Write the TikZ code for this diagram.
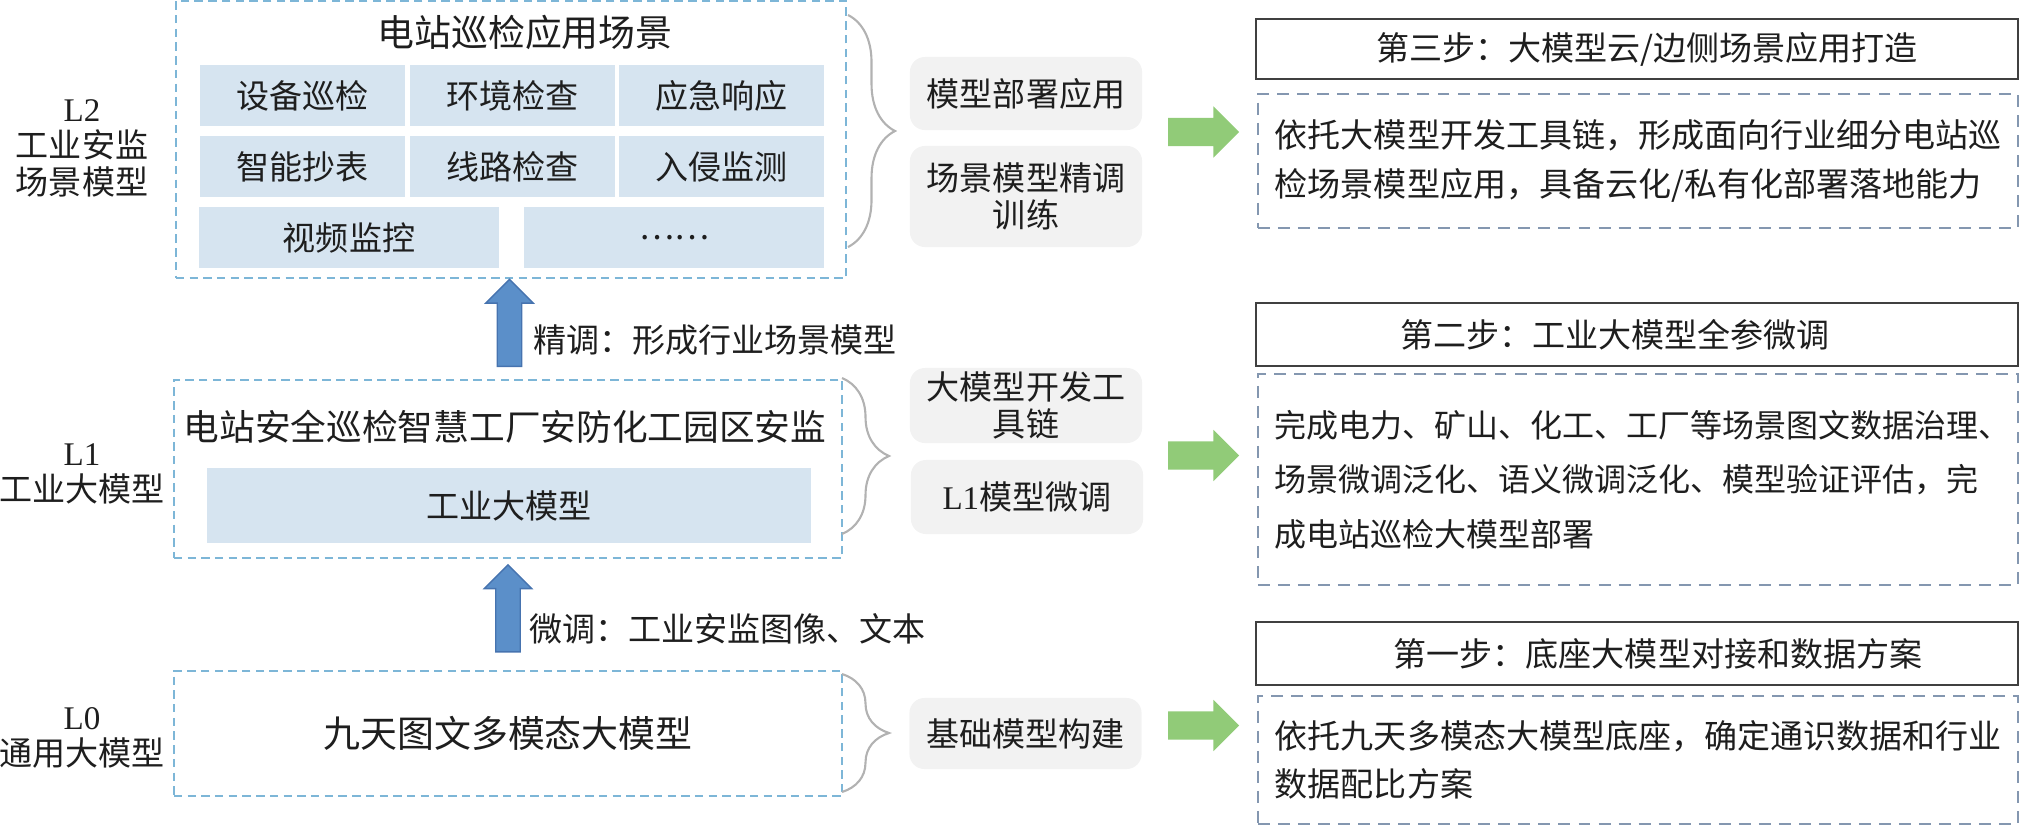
\documentclass[tikz,border=0pt]{standalone}
\usepackage{fontspec}
\setmainfont{Noto Sans CJK SC}
\newfontfamily\latinfont{Liberation Serif}
\usetikzlibrary{shapes.arrows,decorations.pathreplacing}
\definecolor{txtgray}{RGB}{30,30,30}
\definecolor{lblue}{RGB}{125,182,215}
\definecolor{cellblue}{RGB}{214,228,240}
\definecolor{boxgray}{RGB}{242,242,242}
\definecolor{bracegray}{RGB}{178,178,178}
\definecolor{descblue}{RGB}{132,151,176}
\definecolor{stepgray}{RGB}{64,64,64}
\definecolor{upblue}{RGB}{91,143,201}
\definecolor{upline}{RGB}{70,115,175}
\definecolor{gogreen}{RGB}{145,203,120}
\begin{document}
\begin{tikzpicture}[x=0.01cm,y=-0.01cm,
    every node/.style={text=txtgray,inner sep=0pt,outer sep=0pt,
      font=\fontsize{9.4pt}{10.4pt}\selectfont},
    lbox/.style={draw=lblue,line width=0.6pt,dash pattern=on 2.4pt off 1.5pt},
    cell/.style={fill=cellblue,minimum height=0.61cm},
    graybox/.style={fill=boxgray,rounded corners=0.15cm,minimum width=2.32cm,align=center},
    bracestyle/.style={draw=bracegray,line width=0.6pt,decorate,
      decoration={brace,amplitude=0.47cm}},
    bluearrow/.style={single arrow,draw=upline,fill=upblue,line width=0.4pt,rotate=90,
      minimum height=0.87cm,inner ysep=0.115cm,single arrow head extend=0.115cm},
    greenarrow/.style={single arrow,fill=gogreen,
      minimum height=0.71cm,inner ysep=0.135cm,single arrow head extend=0.115cm},
    stepbox/.style={draw=stepgray,line width=0.7pt,fill=white,minimum width=7.62cm},
    descbox/.style={draw=descblue,line width=0.6pt,dash pattern=on 3.4pt off 2.3pt,
      text width=7.26cm,inner xsep=0.17cm,align=left}]
  \useasboundingbox (0,0) rectangle (2024,827);

  % L2
  \node[lbox,minimum width=6.70cm,minimum height=2.77cm] (L2) at (511,139.5) {};
  \node[font=\fontsize{10.5pt}{12pt}\selectfont] (L2title) at (525,32) {电站巡检应用场景};
  \node[cell,minimum width=2.05cm] (c11) at (302.5,95.5) {设备巡检};
  \node[cell,minimum width=2.05cm] (c12) at (512.5,95.5) {环境检查};
  \node[cell,minimum width=2.05cm] (c13) at (721.5,95.5) {应急响应};
  \node[cell,minimum width=2.05cm] (c21) at (302.5,166.5) {智能抄表};
  \node[cell,minimum width=2.05cm] (c22) at (512.5,166.5) {线路检查};
  \node[cell,minimum width=2.05cm] (c23) at (721.5,166.5) {入侵监测};
  \node[cell,minimum width=3.00cm] (c31) at (349,237.5) {视频监控};
  \node[cell,minimum width=3.00cm] (c32) at (674,237.5) {……};
  \node[align=center] (L2lab) at (82,148) {{\latinfont L2}\\工业安监\\场景模型};

  % L1
  \node[lbox,minimum width=6.68cm,minimum height=1.78cm] (L1) at (508,469) {};
  \node[font=\fontsize{10.15pt}{12pt}\selectfont] (L1title) at (505,427) {电站安全巡检智慧工厂安防化工园区安监};
  \node[cell,minimum width=6.04cm,minimum height=0.75cm] (c41) at (509,505.5) {工业大模型};
  \node[align=center] (L1lab) at (82,474) {{\latinfont L1}\\工业大模型};

  % L0
  \node[lbox,minimum width=6.68cm,minimum height=1.25cm,
    font=\fontsize{10.5pt}{12pt}\selectfont] (L0) at (508,733.5) {九天图文多模态大模型};
  \node[align=center] (L0lab) at (82,738) {{\latinfont L0}\\通用大模型};

  % up arrows
  \path (L1.north) -- (L2.south) node[midway,bluearrow] (up2) {};
  \path (L0.north) -- (L1.south) node[midway,bluearrow] (up1) {};
  \node[anchor=west] (up2lab) at (533,340) {精调：形成行业场景模型};
  \node[anchor=west] (up1lab) at (529,629) {微调：工业安监图像、文本};

  % braces
  \draw[bracestyle] (848,15) -- (848,247);
  \draw[bracestyle] (842,378) -- (842,534);
  \draw[bracestyle] (842,674) -- (842,792);

  % gray boxes
  \node[graybox,minimum height=0.73cm] (dep) at (1026,93.5) {模型部署应用};
  \node[graybox,minimum height=1.01cm] (tune) at (1026,196.5) {场景模型精调\\训练};
  \node[graybox,minimum height=0.75cm] (tool) at (1026,405.5) {大模型开发工\\具链};
  \node[graybox,minimum height=0.74cm] (l1tune) at (1027,497) {{\latinfont L1}模型微调};
  \node[graybox,minimum height=0.71cm] (base) at (1025.5,733.5) {基础模型构建};

  % green arrows
  \node[greenarrow] (go3) at (1196.5,132) {};
  \node[greenarrow] (go2) at (1196.5,455.5) {};
  \node[greenarrow] (go1) at (1196.5,725.5) {};

  % steps
  \node[stepbox,minimum height=0.60cm] (s3) at (1637,49) {\hspace*{0.20cm}第三步：大模型云/边侧场景应用打造};
  \node[descbox,minimum height=1.34cm,font=\fontsize{9.4pt}{13.7pt}\selectfont] (d3) at (1638,161)
    {依托大模型开发工具链，形成面向行业细分电站巡\\检场景模型应用，具备云化/私有化部署落地能力};
  \node[stepbox,minimum height=0.63cm] (s2) at (1637,334.5) {第二步：工业大模型全参微调\hspace*{0.44cm}};
  \node[descbox,minimum height=2.11cm,font=\fontsize{9.1pt}{15.5pt}\selectfont] (d2) at (1638,479.5)
    {完成电力、矿山、化工、工厂等场景图文数据治理、\\场景微调泛化、语义微调泛化、模型验证评估，完\\成电站巡检大模型部署};
  \node[stepbox,minimum height=0.63cm] (s1) at (1637,653.5) {\hspace*{0.42cm}第一步：底座大模型对接和数据方案};
  \node[descbox,minimum height=1.28cm,font=\fontsize{9.4pt}{13.7pt}\selectfont] (d1) at (1638,760)
    {依托九天多模态大模型底座，确定通识数据和行业\\数据配比方案};
\end{tikzpicture}
\end{document}
